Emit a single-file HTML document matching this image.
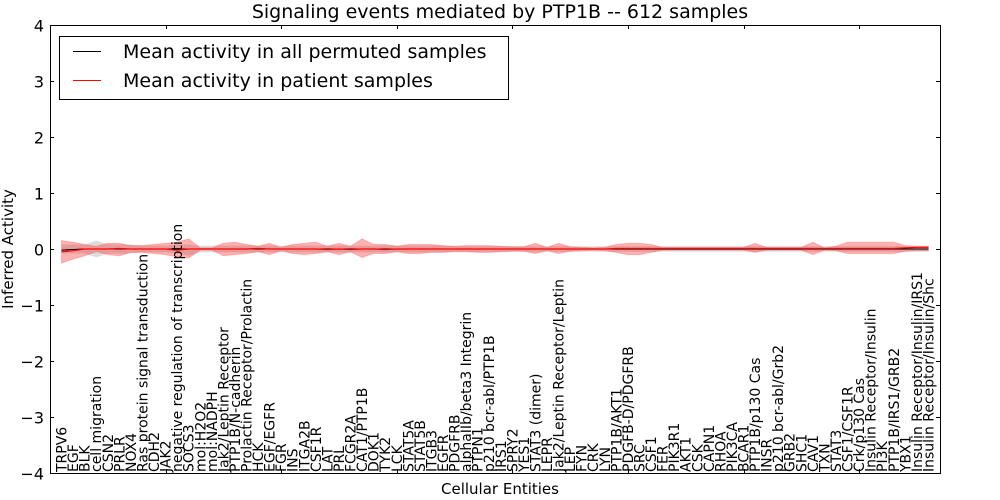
<!DOCTYPE html>
<html><head><meta charset="utf-8">
<style>
body{margin:0;background:#fff;}
svg{display:block;font-family:"DejaVu Sans","Liberation Sans",sans-serif;}
</style></head>
<body>
<svg id="chart" width="1000" height="500">
<rect x="0" y="0" width="1000" height="500" fill="#fff"/>
<text x="500" y="18" font-size="19" text-anchor="middle">Signaling events mediated by PTP1B -- 612 samples</text>
<g id="bands"></g>
<g id="lines"></g>
<g id="axes"></g>
<g id="legend">
<rect x="59.5" y="36.5" width="449" height="63" fill="#fff" stroke="#000"/>
<line x1="73" y1="51.5" x2="101" y2="51.5" stroke="#000" stroke-width="1"/>
<text x="123" y="58" font-size="19">Mean activity in all permuted samples</text>
<line x1="73" y1="80.5" x2="101" y2="80.5" stroke="#f00" stroke-width="1"/>
<text x="123" y="87" font-size="19">Mean activity in patient samples</text>
</g>
<text x="500" y="494" font-size="15" text-anchor="middle">Cellular Entities</text>
<text transform="translate(13,249) rotate(-90)" font-size="15" text-anchor="middle">Inferred Activity</text>
</svg>
<script>
const categories=["TRPV6","EGF","BLK","cell migration","CSN2","PRLR","NOX4","Ras protein signal transduction","CDH2","JAK2","negative regulation of transcription","SOCS3","mol:H2O2","mol:NADPH","Jak2/Leptin Receptor","PTP1B/N-cadherin","Prolactin Receptor/Prolactin","HCK","EGF/EGFR","FGR","INS","ITGA2B","CSF1R","LAT","PRL","FCGR2A","CAT1/PTP1B","DOK1","TYK2","LCK","STAT5A","STAT5B","ITGB3","EGFR","PDGFRB","alphaIIb/beta3 Integrin","PTPN1","p210 bcr-abl/PTP1B","IRS1","SPRY2","YES1","STAT3 (dimer)","LEPR","Jak2/Leptin Receptor/Leptin","LEP","FYN","CRK","LYN","PTP1B/AKT1","PDGFB-D/PDGFRB","SRC","CSF1","FER","PIK3R1","AKT1","CSK","CAPN1","RHOA","PIK3CA","BCAR1","PTP1B/p130 Cas","INSR","p210 bcr-abl/Grb2","GRB2","SHC1","CAV1","TXN","STAT3","CSF1/CSF1R","Crk/p130 Cas","Insulin Receptor/Insulin","PI3K","PTP1B/IRS1/GRB2","YBX1","Insulin Receptor/Insulin/IRS1","Insulin Receptor/Insulin/Shc"];
const patientMean=[-0.05,-0.03,0.0,0.0,0.0,0.01,0.0,0.0,0.0,0.0,-0.02,0.0,0.0,0.0,0.0,0.0,0.0,0.01,0.0,0.0,0.0,0.0,0.0,-0.01,0.0,-0.01,0.0,0.0,-0.01,0.0,0.0,0.0,0.0,0.0,0.0,0.0,0.0,0.0,0.0,0.0,0.0,0.0,0.0,0.0,0.0,0.0,0.0,0.0,0.01,0.01,0.01,0.01,0.01,0.01,0.01,0.01,0.01,0.01,0.01,0.01,0.01,0.01,0.01,0.01,0.01,0.01,0.01,0.01,0.01,0.01,0.01,0.01,0.01,0.02,0.03,0.03];
const patientHi=[0.15,0.12,0.08,0.05,0.10,0.10,0.06,0.06,0.08,0.10,0.12,0.18,0.02,0.02,0.10,0.12,0.08,0.05,0.10,0.03,0.08,0.10,0.12,0.05,0.10,0.05,0.18,0.08,0.08,0.05,0.08,0.08,0.08,0.06,0.05,0.06,0.06,0.06,0.05,0.04,0.04,0.10,0.03,0.10,0.04,0.03,0.02,0.03,0.08,0.10,0.10,0.08,0.03,0.03,0.03,0.03,0.03,0.03,0.03,0.03,0.10,0.03,0.03,0.03,0.03,0.12,0.02,0.05,0.12,0.12,0.12,0.12,0.12,0.06,0.05,0.05];
const patientLo=[-0.25,-0.18,-0.12,-0.05,-0.10,-0.12,-0.06,-0.06,-0.08,-0.10,-0.14,-0.16,-0.02,-0.02,-0.12,-0.10,-0.08,-0.05,-0.10,-0.03,-0.08,-0.10,-0.08,-0.05,-0.10,-0.05,-0.15,-0.08,-0.08,-0.05,-0.08,-0.08,-0.06,-0.06,-0.05,-0.05,-0.06,-0.06,-0.05,-0.04,-0.04,-0.08,-0.03,-0.08,-0.04,-0.03,-0.02,-0.03,-0.06,-0.10,-0.10,-0.06,-0.02,-0.02,-0.02,-0.02,-0.02,-0.02,-0.02,-0.02,-0.06,-0.02,-0.02,-0.02,-0.02,-0.10,-0.02,-0.03,-0.08,-0.08,-0.08,-0.08,-0.08,-0.04,-0.03,-0.03];
const permMean=[-0.02,-0.01,0.0,0.0,0.0,0.0,0.0,0.0,0.0,0.0,0.0,0.0,0.0,0.0,0.0,0.0,0.0,0.0,0.0,0.0,0.0,0.0,0.0,0.0,0.0,0.0,0.0,0.0,0.0,0.0,0.0,0.0,0.0,0.0,0.0,0.0,0.0,0.0,0.0,0.0,0.0,0.0,0.0,0.0,0.0,0.0,0.0,0.0,0.0,0.0,0.0,0.0,0.0,0.0,0.0,0.0,0.0,0.0,0.0,0.0,0.0,0.0,0.0,0.0,0.0,0.0,0.0,0.0,0.0,0.0,0.0,0.0,0.0,0.0,0.0,0.0];
const permHi=[0.08,0.08,0.08,0.15,0.08,0.08,0.08,0.06,0.06,0.06,0.08,0.08,0.06,0.06,0.06,0.06,0.06,0.06,0.06,0.06,0.06,0.06,0.06,0.06,0.06,0.06,0.06,0.06,0.06,0.06,0.06,0.06,0.06,0.06,0.05,0.05,0.05,0.05,0.05,0.05,0.05,0.05,0.05,0.05,0.05,0.05,0.05,0.05,0.05,0.05,0.05,0.05,0.05,0.05,0.05,0.05,0.05,0.05,0.05,0.05,0.05,0.05,0.05,0.05,0.05,0.05,0.05,0.05,0.05,0.05,0.05,0.05,0.05,0.05,0.05,0.05];
const permLo=[-0.08,-0.08,-0.08,-0.15,-0.08,-0.08,-0.08,-0.06,-0.06,-0.06,-0.08,-0.12,-0.06,-0.06,-0.06,-0.06,-0.06,-0.06,-0.06,-0.06,-0.06,-0.06,-0.06,-0.06,-0.06,-0.06,-0.06,-0.06,-0.06,-0.06,-0.06,-0.06,-0.06,-0.06,-0.05,-0.05,-0.05,-0.05,-0.05,-0.05,-0.05,-0.05,-0.05,-0.05,-0.05,-0.05,-0.05,-0.05,-0.05,-0.05,-0.05,-0.05,-0.05,-0.05,-0.05,-0.05,-0.05,-0.05,-0.05,-0.05,-0.05,-0.05,-0.05,-0.05,-0.05,-0.05,-0.05,-0.05,-0.05,-0.05,-0.05,-0.05,-0.05,-0.05,-0.05,-0.05];
const yTicks=[-4,-3,-2,-1,0,1,2,3,4];
const yTickLabels=["\u22124","\u22123","\u22122","\u22121","0","1","2","3","4"];

const NS="http://www.w3.org/2000/svg";
const L=50,R=940,T=25,B=473;
const n=categories.length;
function xs(i){return L+(i+1)*(R-L)/(n+1);}
function ys(v){return T+(4-v)*(B-T)/8;}
function mk(tag,attrs,parent){const e=document.createElementNS(NS,tag);for(const k in attrs)e.setAttribute(k,attrs[k]);parent.appendChild(e);return e;}
function bandPath(hi,lo){let d="";for(let i=0;i<n;i++)d+=(i?"L":"M")+xs(i)+","+ys(hi[i]);for(let i=n-1;i>=0;i--)d+="L"+xs(i)+","+ys(lo[i]);return d+"Z";}
function linePath(v){let d="";for(let i=0;i<n;i++)d+=(i?"L":"M")+xs(i)+","+ys(v[i]);return d;}
const bands=document.getElementById('bands'),lines=document.getElementById('lines'),axes=document.getElementById('axes');
const pb=mk('path',{d:bandPath(permHi,permLo),fill:"#bbb","fill-opacity":0.5,stroke:"none"},bands);


const rb=mk('path',{d:bandPath(patientHi,patientLo),fill:"#f00","fill-opacity":0.3,stroke:"#f66","stroke-opacity":0.4},bands);


const pl=mk('path',{d:linePath(permMean),fill:"none",stroke:"#000","stroke-width":1},lines);


const dl=mk('path',{d:linePath(permMean),fill:"none",stroke:"#000","stroke-width":1,"stroke-dasharray":"1,4"},lines);


const rl=mk('path',{d:linePath(patientMean),fill:"none",stroke:"#f00","stroke-width":1.2},lines);


const frame=mk('rect',{x:L+0.5,y:T+0.5,width:R-L,height:B-T,fill:"none",stroke:"#000","stroke-width":1},axes);


yTicks.forEach((v,k)=>{
  const y=Math.round(ys(v))+0.5;
  mk('line',{x1:L,y1:y,x2:L+4,y2:y,stroke:"#000"},axes);
  mk('line',{x1:R,y1:y,x2:R-4,y2:y,stroke:"#000"},axes);
  const t=mk('text',{x:L-6,y:y+6,"font-size":16,"text-anchor":"end"},axes);
  t.textContent=yTickLabels[k];
  
  
});
for(let i=9;i<n;i+=10){const x=Math.round(xs(i))+0.5;mk('line',{x1:x,y1:T,x2:x,y2:T+4,stroke:"#000"},axes);mk('line',{x1:x,y1:B,x2:x,y2:B-4,stroke:"#000"},axes);}
categories.forEach((c,i)=>{
  const x=xs(i);
  const t=mk('text',{transform:"translate("+(x+5)+","+(B-1)+") rotate(-90)","font-size":14},axes);
  t.textContent=c;
  
  
});
</script>
</body></html>
